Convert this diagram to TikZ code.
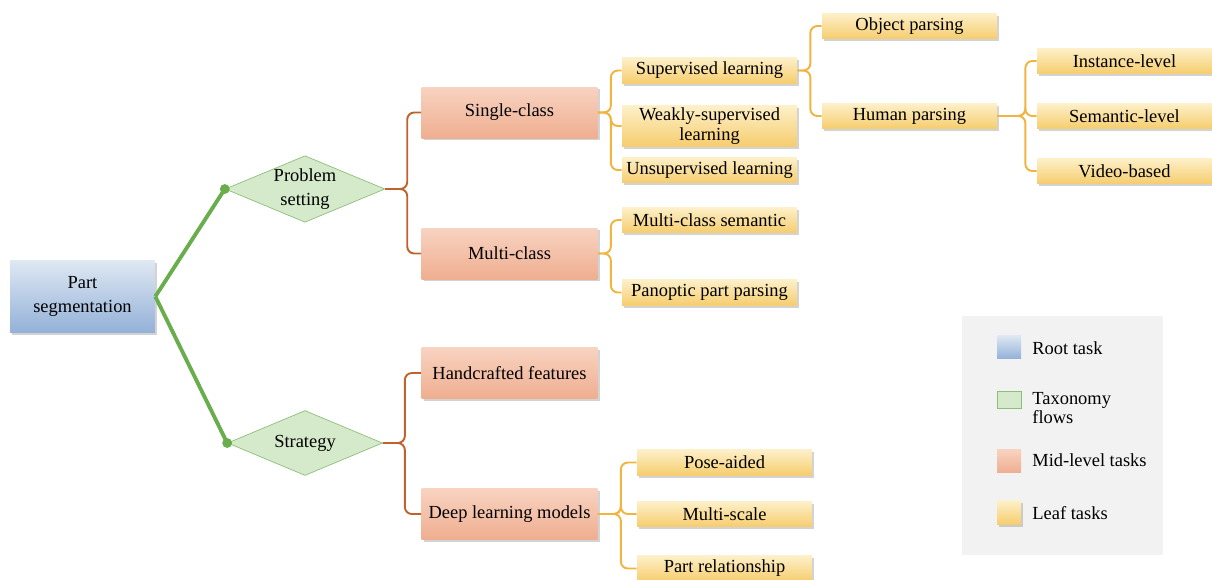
\documentclass[tikz,border=0pt]{standalone}
\usepackage{fontspec}
\setmainfont{Liberation Serif}
\usepackage{xcolor}
\usepackage{tikz}
\usetikzlibrary{shapes, positioning, arrows.meta, shadows}

\definecolor{rootTop}{HTML}{DFE8F3}
\definecolor{rootBot}{HTML}{93B1D8}
\definecolor{flowFill}{HTML}{D5EACA}
\definecolor{flowDraw}{HTML}{8CC07A}
\definecolor{trunkGreen}{HTML}{6AAD4C}
\definecolor{midTop}{HTML}{F8D3C1}
\definecolor{midBot}{HTML}{EFAE90}
\definecolor{midLine}{HTML}{C0622B}
\definecolor{leafTop}{HTML}{FDF0C9}
\definecolor{leafBot}{HTML}{F6CD6E}
\definecolor{leafLine}{HTML}{F0B43F}
\definecolor{legendBg}{HTML}{F2F2F2}

\begin{document}
\begin{tikzpicture}[
    x=0.02cm, y=-0.02cm,
    font=\fontsize{10.5}{11.5}\selectfont,
    % Define the shadow used under the boxes
    boxshadow/.style={
        drop shadow={shadow xshift=1.3pt, shadow yshift=-1.3pt, opacity=0.35}
    },
    % Define the style for the root box
    root/.style={
        rectangle,
        top color=rootTop,
        bottom color=rootBot,
        align=center,
        font=\fontsize{10.5}{13.5}\selectfont,
        minimum width=2.9cm,
        minimum height=1.44cm,
        boxshadow
    },
    % Define the style for the taxonomy diamonds
    flow/.style={
        diamond,
        shape aspect=2.4,
        draw=flowDraw,
        fill=flowFill,
        align=center,
        font=\fontsize{10.5}{13.5}\selectfont,
        inner sep=0pt,
        minimum width=3.1cm,
        minimum height=1.3cm
    },
    % Define the style for the mid-level boxes
    mid/.style={
        rectangle,
        top color=midTop,
        bottom color=midBot,
        align=center,
        minimum width=3.52cm,
        minimum height=1.02cm,
        boxshadow
    },
    % Define the style for the leaf boxes
    leaf/.style={
        rectangle,
        top color=leafTop,
        bottom color=leafBot,
        align=center,
        inner sep=1pt,
        minimum width=3.5cm,
        minimum height=0.51cm,
        boxshadow
    },
    % Define styles for the connectors
    trunk/.style={line width=2.2pt, trunkGreen},
    midbrace/.style={line width=1.1pt, midLine, rounded corners=4pt},
    leafbrace/.style={line width=1.1pt, leafLine, rounded corners=4pt},
    % Define styles for the legend
    swatch/.style={rectangle, inner sep=0pt, minimum width=0.48cm, minimum height=0.47cm},
    key/.style={anchor=west, align=left, inner sep=0pt, font=\fontsize{10.5}{10.8}\selectfont}
]
\useasboundingbox (0,0) rectangle (1212,579);

% 1. Root task
\node (root) [root] at (82.5,296.5) {Part\\segmentation};

% 2. Taxonomy flows
\node (setting) [flow] at (305,189) {Problem\\setting};
\node (strategy) [flow] at (305,443) {Strategy};

% 3. Mid-level tasks
\node (single) [mid] at (509.5,112.5) {Single-class};
\node (multi) [mid] at (509.5,253.5) {Multi-class};
\node (hand) [mid] at (509.5,373) {Handcrafted features};
\node (deep) [mid] at (509.5,514) {Deep learning models};

% 4. Leaf tasks
\node (sup) [leaf] at (709.5,70.5) {Supervised learning};
\node (weak) [leaf, minimum height=0.72cm] at (709.5,126) {Weakly-supervised\\learning};
\node (unsup) [leaf] at (709.5,170) {Unsupervised learning};
\node (mcsem) [leaf] at (709.5,220) {Multi-class semantic};
\node (panoptic) [leaf] at (709.5,292.5) {Panoptic part parsing};
\node (object) [leaf] at (909.5,26) {Object parsing};
\node (human) [leaf] at (909.5,116) {Human parsing};
\node (instance) [leaf] at (1124.5,61) {Instance-level};
\node (semantic) [leaf] at (1124.5,116) {Semantic-level};
\node (video) [leaf] at (1124.5,171) {Video-based};
\node (pose) [leaf] at (724.5,462.5) {Pose-aided};
\node (scale) [leaf] at (724.5,514) {Multi-scale};
\node (relation) [leaf] at (724.5,568.5) {Part relationship};

% Draw the green trunk from the root
\draw [trunk] (root.east) -- (setting.west);
\draw [trunk] (root.east) -- (strategy.west);
\fill [trunkGreen] (setting.west) circle (2.8pt);
\fill [trunkGreen] (strategy.west) circle (2.8pt);

% Draw braces to the children
\foreach \kid in {single, multi}
    \draw [midbrace] (setting.east) -- ++(22,0) |- (\kid.west);
\foreach \kid in {hand, deep}
    \draw [midbrace] (strategy.east) -- ++(22,0) |- (\kid.west);
\foreach \kid in {sup, weak, unsup}
    \draw [leafbrace] (single.east) -- ++(13,0) |- (\kid.west);
\foreach \kid in {mcsem, panoptic}
    \draw [leafbrace] (multi.east) -- ++(13,0) |- (\kid.west);
\foreach \kid in {object, human}
    \draw [leafbrace] (sup.east) -- ++(13,0) |- (\kid.west);
\foreach \kid in {instance, semantic, video}
    \draw [leafbrace] (human.east) -- ++(28,0) |- (\kid.west);
\foreach \kid in {pose, scale, relation}
    \draw [leafbrace] (deep.east) -- ++(23,0) |- (\kid.west);

% Legend
\node (legend) [fill=legendBg, minimum width=4.02cm, minimum height=4.78cm] at (1062.5,435.5) {};
\node (keyroot) [swatch, top color=rootTop, bottom color=rootBot] at (1009,347) {};
\node (keyflow) [swatch, draw=flowDraw, fill=flowFill, minimum height=0.34cm] at (1009,399.5) {};
\node (keymid) [swatch, top color=midTop, bottom color=midBot] at (1009,461) {};
\node (keyleaf) [swatch, top color=leafTop, bottom color=leafBot, boxshadow] at (1009,512.5) {};
\node (txtroot) [key] at (1032,348) {Root task};
\node (txtflow) [key] at (1032,408) {Taxonomy\\flows};
\node (txtmid) [key] at (1032,460) {Mid-level tasks};
\node (txtleaf) [key] at (1032,513) {Leaf tasks};

\end{tikzpicture}
\end{document}
